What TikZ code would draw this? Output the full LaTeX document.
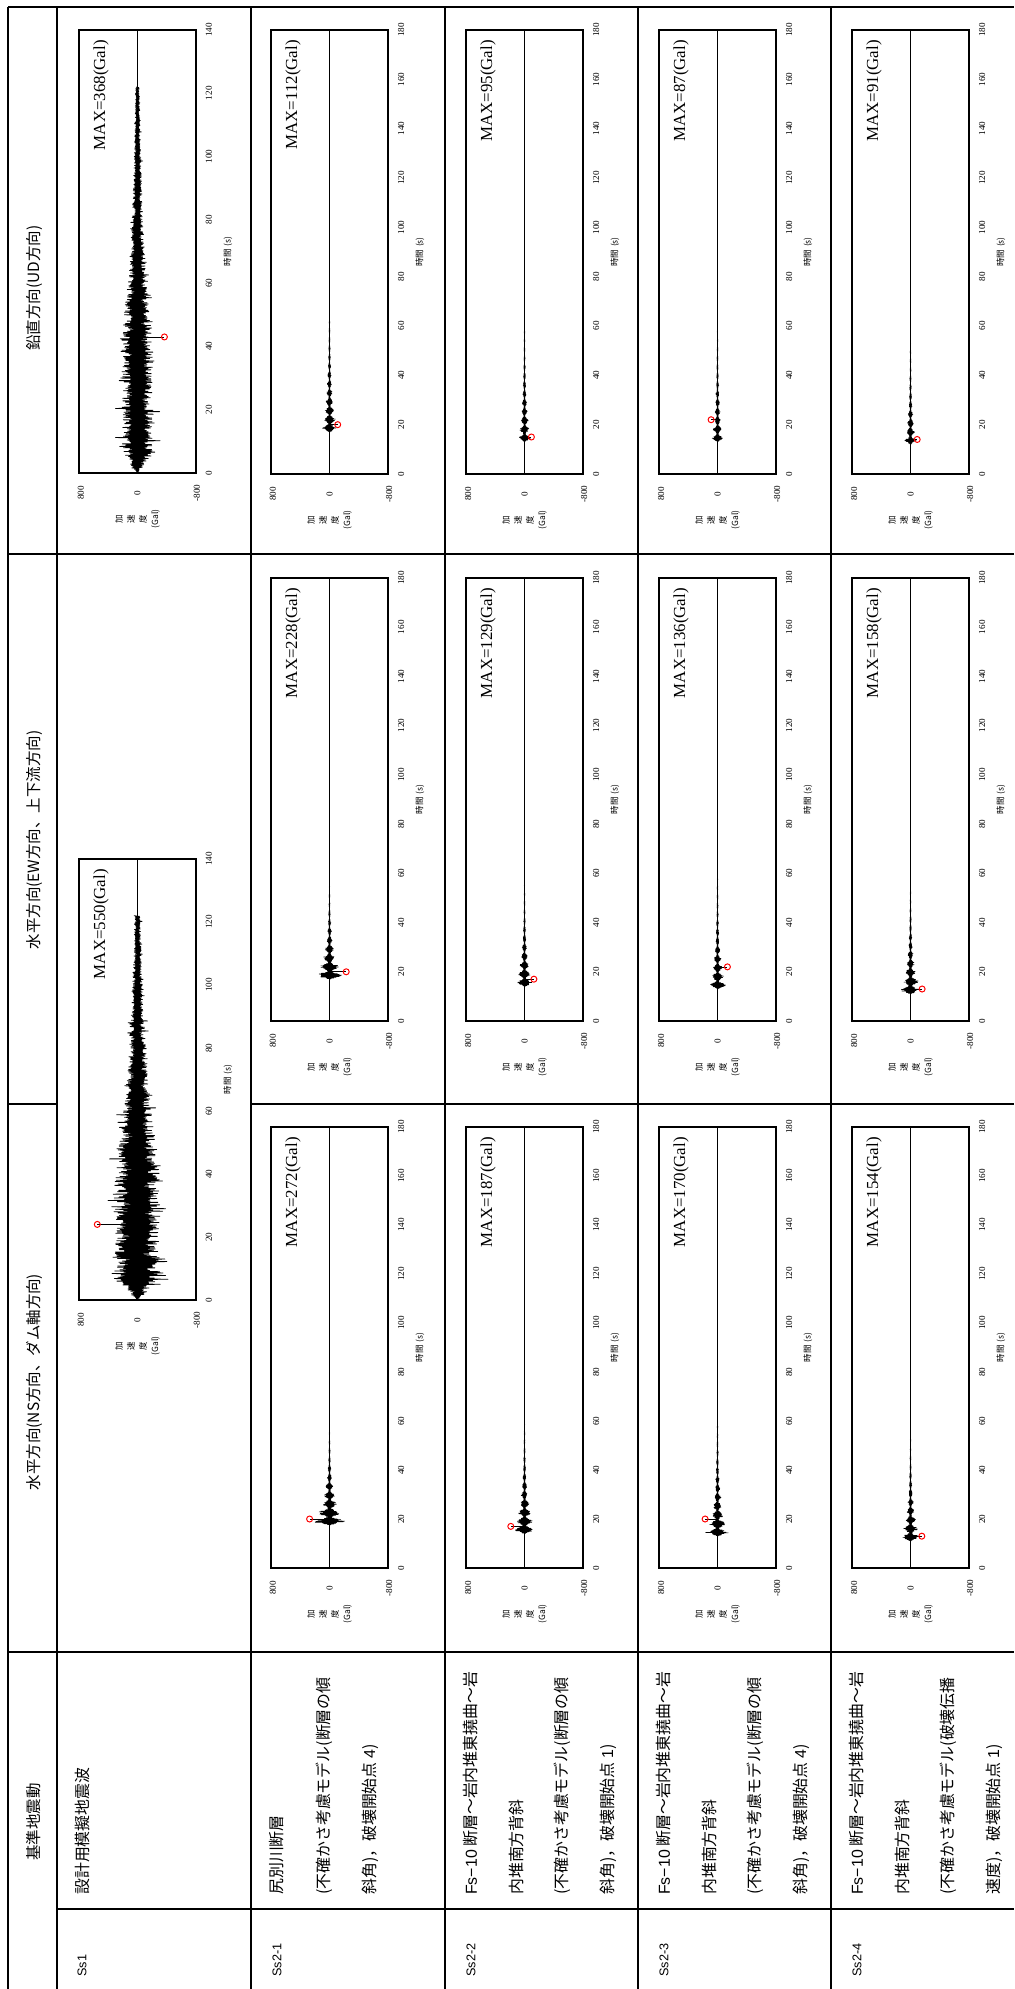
\documentclass[tikz,border=0pt]{standalone}
\usepackage{fontspec}
\setmainfont{Liberation Serif}
\newfontfamily\jpfont{Noto Sans CJK JP}
\newfontfamily\lsans{Liberation Sans}
\usetikzlibrary{positioning}

% one plot frame: name, left, top, bottom, t max, MAX value
\newcommand{\accplot}[6]{%
  \pgfmathsetmacro\pr{#2+117}
  \pgfmathsetmacro\pz{#2+58.5}
  \draw[plotbox] (#2,#3) rectangle (\pr,#4);
  \draw[zeroline] (\pz,#3) -- (\pz,#4);
  \node[maxlabel] (#1-max) at (#2+22,#3+10) {MAX=#6(Gal)};
  \foreach \tk in {0,20,...,#5}
    \node[ticklabel] (#1-t\tk) at (\pr+13,{#4-(#4-#3)/#5*\tk}) {\tk};
  \node[ticklabel] (#1-pos) at (#2+2,#4+20) {800};
  \node[ticklabel] (#1-zero) at (\pz,#4+20) {0};
  \node[ticklabel] (#1-neg) at (\pr+1,#4+20) {-800};
  \node[axistitle] (#1-time) at (\pr+32,{(#3+#4)/2}) {時間\,\,(s)};
  \node[axistitle] (#1-acc) at (\pz,#4+46) {加\\速\\度\\(Gal)};
}

% design wave: zero x, bottom y, px per s, amplitude
\newcommand{\dswave}[4]{%
  \draw[dwave] (#1,#2) \foreach \i in {1,...,610} {
    -- ({#1+(2*mod(\i,2)-1)*#4*dsenv(\i/5)*(0.35+0.45*rnd+0.5*rnd^12)}, {#2-\i/5*#3})
  };
}

% fault wave: zero x, bottom y, px per s, amplitude, t start, decay, t end
\newcommand{\pagwave}[7]{%
  \draw[wave] (#1,#2) -- (#1,{#2-#5*#3}) \foreach \i in {1,...,300} {
    -- ({#1+(2*mod(\i,2)-1)*#4*pagenv(\i*0.15,#6)*(0.5+0.5*rnd)}, {#2-(#5+\i*0.15)*#3})
  };
  \draw[tail] (#1,{#2-(#5+45)*#3}) -- (#1,{#2-#7*#3});
}

% peak marker: zero x, bottom y, px per s, t, offset
\newcommand{\peakdot}[5]{%
  \draw[wave] (#1,{#2-#4*#3}) -- ({#1+#5},{#2-#4*#3});
  \draw[peakmark] ({#1+#5},{#2-#4*#3}) circle (3);
}

\begin{document}
\begin{tikzpicture}[x=0.025cm, y=-0.025cm,
    rowline/.style={line width=1.7pt},
    colline/.style={line width=1.1pt},
    plotbox/.style={line width=0.8pt},
    zeroline/.style={line width=0.6pt},
    wave/.style={line width=0.45pt, line join=round},
    dwave/.style={line width=0.55pt, line join=round},
    tail/.style={line width=0.9pt},
    peakmark/.style={draw=red, line width=0.7pt},
    vtext/.style={rotate=90, inner sep=0pt},
    headtext/.style={vtext, font=\jpfont\fontsize{11}{13}\selectfont},
    desctext/.style={vtext, anchor=west, font=\jpfont\fontsize{11.3}{14}\selectfont},
    sslabel/.style={vtext, anchor=west, font=\lsans\fontsize{9}{11}\selectfont},
    maxlabel/.style={vtext, anchor=east, font=\fontsize{12}{14}\selectfont},
    ticklabel/.style={vtext, font=\fontsize{6.5}{7}\selectfont},
    axistitle/.style={vtext, align=center, font=\jpfont\fontsize{6}{8.5}\selectfont},
    declare function={
      dsenv(\t)=min(\t/6,1)*exp(-max(\t-42,0)/38);
      pagenv(\u,\k)=min(\u/1.5,1)*exp(-max(\u-1.5,0)/\k)*(0.6+0.4*cos(100*max(\u-1.5,0)));
    }
  ]
  \useasboundingbox (0,0) rectangle (1014,1989);
  \pgfmathsetseed{4711}

  % Table frame
  \draw[rowline] (8,7) -- (1014,7);
  \foreach \rx in {8,57,251,445,638,831}
    \draw[rowline] (\rx,7) -- (\rx,1989);
  \draw[colline] (8,554) -- (1014,554);
  \draw[colline] (8,1104) -- (57,1104);
  \draw[colline] (251,1104) -- (1014,1104);
  \draw[colline] (8,1652) -- (1014,1652);
  \draw[colline] (57,1909) -- (1014,1909);

  % Header
  \node[headtext] (hdud) at (34,288) {鉛直方向(UD方向)};
  \node[headtext] (hdew) at (34,840) {水平方向(EW方向、上下流方向)};
  \node[headtext] (hdns) at (34,1382) {水平方向(NS方向、ダム軸方向)};
  \node[headtext] (hdbase) at (34,1822) {基準地震動};

  % Labels and descriptions
  \node[sslabel] (lssone) at (82,1977) {Ss1};
  \node[desctext] (dssone) at (82,1895) {設計用模擬地震波};

  \node[sslabel] (lsstwoa) at (277,1977) {Ss2-1};
  \node[desctext] (dsa1) at (277,1895) {尻別川断層};
  \node[desctext] (dsa2) at (324,1895) {(不確かさ考慮モデル(断層の傾};
  \node[desctext] (dsa3) at (370,1895) {斜角)，破壊開始点 {\lsans 4})};

  \node[sslabel] (lsstwob) at (471,1977) {Ss2-2};
  \node[desctext] (dsb1) at (471,1895) {{\lsans Fs−10} 断層〜岩内堆東撓曲〜岩};
  \node[desctext] (dsb2) at (516,1895) {内堆南方背斜};
  \node[desctext] (dsb3) at (562,1895) {(不確かさ考慮モデル(断層の傾};
  \node[desctext] (dsb4) at (608,1895) {斜角)，破壊開始点 {\lsans 1})};

  \node[sslabel] (lsstwoc) at (664,1977) {Ss2-3};
  \node[desctext] (dsc1) at (664,1895) {{\lsans Fs−10} 断層〜岩内堆東撓曲〜岩};
  \node[desctext] (dsc2) at (709,1895) {内堆南方背斜};
  \node[desctext] (dsc3) at (755,1895) {(不確かさ考慮モデル(断層の傾};
  \node[desctext] (dsc4) at (801,1895) {斜角)，破壊開始点 {\lsans 4})};

  \node[sslabel] (lsstwod) at (857,1977) {Ss2-4};
  \node[desctext] (dsd1) at (857,1895) {{\lsans Fs−10} 断層〜岩内堆東撓曲〜岩};
  \node[desctext] (dsd2) at (902,1895) {内堆南方背斜};
  \node[desctext] (dsd3) at (948,1895) {(不確かさ考慮モデル(破壊伝播};
  \node[desctext] (dsd4) at (994,1895) {速度)，破壊開始点 {\lsans 1})};

  % Ss1
  \accplot{ssoneud}{79}{30}{473}{140}{368}
  \dswave{137.5}{473}{3.164}{19}
  \peakdot{137.5}{473}{3.164}{43}{26.9}
  \accplot{ssoneh}{79}{859}{1300}{140}{550}
  \dswave{137.5}{1300}{3.15}{28}
  \peakdot{137.5}{1300}{3.15}{24}{-40.2}

  % Ss2-1
  \accplot{ssaud}{271}{30}{474}{180}{112}
  \pagwave{329.5}{474}{2.467}{8}{17}{14}{165}
  \peakdot{329.5}{474}{2.467}{20}{8.2}
  \accplot{ssaew}{271}{578}{1021}{180}{228}
  \pagwave{329.5}{1021}{2.461}{15}{17}{9}{165}
  \peakdot{329.5}{1021}{2.461}{20}{16.7}
  \accplot{ssans}{271}{1127}{1568}{180}{272}
  \pagwave{329.5}{1568}{2.45}{18}{17.5}{9}{165}
  \peakdot{329.5}{1568}{2.45}{20}{-19.9}

  % Ss2-2
  \accplot{ssbud}{466}{30}{474}{180}{95}
  \pagwave{524.5}{474}{2.467}{6.5}{13}{14}{165}
  \peakdot{524.5}{474}{2.467}{15}{6.9}
  \accplot{ssbew}{466}{578}{1021}{180}{129}
  \pagwave{524.5}{1021}{2.461}{9}{14}{11}{165}
  \peakdot{524.5}{1021}{2.461}{17}{9.4}
  \accplot{ssbns}{466}{1127}{1568}{180}{187}
  \pagwave{524.5}{1568}{2.45}{13}{14}{11}{165}
  \peakdot{524.5}{1568}{2.45}{17}{-13.7}

  % Ss2-3
  \accplot{sscud}{659}{30}{474}{180}{87}
  \pagwave{717.5}{474}{2.467}{6}{13}{14}{165}
  \peakdot{717.5}{474}{2.467}{22}{-6.4}
  \accplot{sscew}{659}{578}{1021}{180}{136}
  \pagwave{717.5}{1021}{2.461}{9}{13}{12}{165}
  \peakdot{717.5}{1021}{2.461}{22}{9.9}
  \accplot{sscns}{659}{1127}{1568}{180}{170}
  \pagwave{717.5}{1568}{2.45}{12}{13}{12}{165}
  \peakdot{717.5}{1568}{2.45}{20}{-12.4}

  % Ss2-4
  \accplot{ssdud}{852}{30}{474}{180}{91}
  \pagwave{910.5}{474}{2.467}{6}{12}{12}{165}
  \peakdot{910.5}{474}{2.467}{14}{6.7}
  \accplot{ssdew}{852}{578}{1021}{180}{158}
  \pagwave{910.5}{1021}{2.461}{11}{11}{11}{165}
  \peakdot{910.5}{1021}{2.461}{13}{11.6}
  \accplot{ssdns}{852}{1127}{1568}{180}{154}
  \pagwave{910.5}{1568}{2.45}{10.5}{11}{11}{165}
  \peakdot{910.5}{1568}{2.45}{13}{11.3}
\end{tikzpicture}
\end{document}
